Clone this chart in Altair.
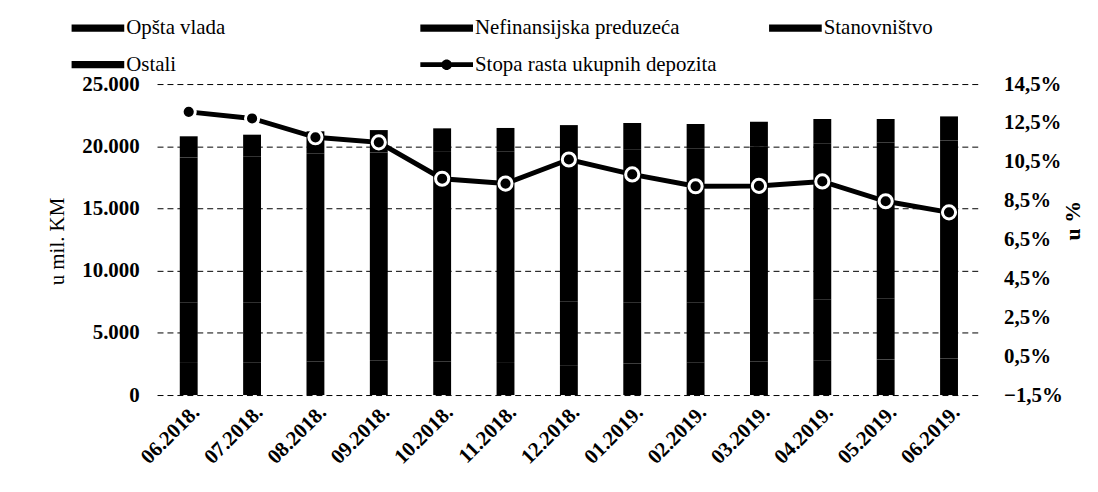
import altair as alt
import pandas as pd

# ---- data ----
months = ["06.2018.", "07.2018.", "08.2018.", "09.2018.", "10.2018.", "11.2018.",
          "12.2018.", "01.2019.", "02.2019.", "03.2019.", "04.2019.", "05.2019.", "06.2019."]

# u mil. KM
opsta_vlada   = [2650, 2600, 2700, 2750, 2700, 2650, 2400, 2550, 2600, 2700, 2800, 2850, 2950]
nefinansijska = [4800, 4850, 4850, 4800, 4850, 4900, 5100, 4900, 4850, 4850, 4900, 4900, 4850]
stanovnistvo  = [11650, 11750, 11850, 11950, 12000, 12050, 12200, 12300, 12350, 12450, 12500, 12550, 12650]
ostali        = [1700, 1730, 1800, 1800, 1890, 1870, 2000, 2120, 1990, 1970, 1990, 1890, 1950]

# u %
stopa_rasta = [13.07, 12.73, 11.76, 11.50, 9.63, 9.38, 10.62, 9.85, 9.24, 9.26, 9.49, 8.47, 7.90]

series_names = ["Opšta vlada", "Nefinansijska preduzeća", "Stanovništvo", "Ostali",
                "Stopa rasta ukupnih depozita"]

left_ticks = [0, 5000, 10000, 15000, 20000, 25000]
right_ticks = [-1.5, 0.5, 2.5, 4.5, 6.5, 8.5, 10.5, 12.5, 14.5]

rows = []
for k, vals in enumerate([opsta_vlada, nefinansijska, stanovnistvo, ostali]):
    for i, m in enumerate(months):
        rows.append({"mjesec": m, "serija": series_names[k], "vrijednost": vals[i], "red": k})
bars_df = pd.DataFrame(rows)
rate_df = pd.DataFrame({"mjesec": months, "stopa": stopa_rasta, "serija": series_names[4]})

FONT = "Liberation Serif"
RECT = "M-1,-0.14H1V0.14H-1Z"
LINE_DOT = "M-1,-0.09H1V0.09H-1Z M-0.2,0A0.2,0.2 0 1,1 0.2,0A0.2,0.2 0 1,1 -0.2,0Z"

x_enc = alt.X(
    "mjesec:N", sort=months,
    scale=alt.Scale(paddingInner=0.5, paddingOuter=0.25),
    axis=alt.Axis(title=None, labelAngle=-45, labelFont=FONT, labelFontWeight="bold",
                  labelFontSize=21, labelColor="black", domain=False, ticks=False,
                  labelPadding=6),
)

bars = alt.Chart(bars_df).mark_bar(size=18, color="black").encode(
    x=x_enc,
    y=alt.Y(
        "vrijednost:Q", stack="zero",
        scale=alt.Scale(domain=[0, 25000], nice=False),
        axis=alt.Axis(values=left_ticks,
                      labelExpr="replace(format(datum.value, ','), ',', '.')",
                      title="u mil. KM", titleFont=FONT, titleFontWeight="normal",
                      titleFontSize=21, titleColor="black", titleAngle=270,
                      titleBaseline="middle", titleX=-100, titleY=158,
                      labelFont=FONT, labelFontWeight="bold", labelFontSize=21,
                      labelColor="black", labelPadding=18,
                      grid=True, gridDash=[6, 4], gridColor="black", gridWidth=1,
                      gridOpacity=1, domain=False, ticks=False),
    ),
    detail="serija:N",
    order=alt.Order("red:Q", sort="ascending"),
)

y_rate = alt.Y(
    "stopa:Q",
    scale=alt.Scale(domain=[-1.5, 14.5], nice=False, zero=False),
    axis=alt.Axis(orient="right", values=right_ticks,
                  labelExpr="replace(format(datum.value, '.1f'), '.', ',') + '%'",
                  title="u %", titleFont=FONT, titleFontWeight="bold", titleFontSize=22,
                  titleColor="black", titleAngle=270, titleBaseline="middle",
                  titleX=92, titleY=137,
                  labelFont=FONT, labelFontWeight="bold", labelFontSize=21,
                  labelColor="black", labelPadding=23,
                  grid=False, domain=False, ticks=False),
)

line = alt.Chart(rate_df).mark_line(color="black", strokeWidth=5).encode(x=x_enc, y=y_rate)
pts = alt.Chart(rate_df).mark_circle(fill="black", stroke="white", strokeWidth=3,
                                     size=175, opacity=1).encode(x=x_enc, y=y_rate)

legend_obj = alt.Legend(
    title=None, orient="none", legendX=-86, legendY=-83, columns=3, gridAlign="all",
    direction="horizontal",
    columnPadding=52, rowPadding=0, symbolSize=2809, symbolStrokeWidth=0,
    symbolOpacity=1, symbolFillColor="black", labelFont=FONT, labelFontSize=21,
    labelColor="black", labelLimit=500, labelOffset=2, padding=0,
)

# carries only the legend (points are fully transparent)
legend_layer = alt.Chart(rate_df).mark_point(filled=True, opacity=0, size=10).encode(
    x=x_enc, y=y_rate,
    color=alt.Color("serija:N", scale=alt.Scale(domain=series_names, range=["black"] * 5),
                    legend=legend_obj),
    shape=alt.Shape("serija:N",
                    scale=alt.Scale(domain=series_names, range=[RECT] * 4 + [LINE_DOT]),
                    legend=legend_obj),
)

rate = alt.layer(line, pts, legend_layer)

chart = alt.layer(bars, rate).resolve_scale(y="independent").properties(
    width=829, height=313,
    autosize=alt.AutoSizeParams(type="none"),
    padding={"left": 150, "top": 75, "right": 110, "bottom": 90},
).configure_view(stroke=None).configure_legend(
    labelFont=FONT, labelFontSize=21, labelColor="black"
)

chart.save("out.html", embed_options={"renderer": "svg", "actions": False})
